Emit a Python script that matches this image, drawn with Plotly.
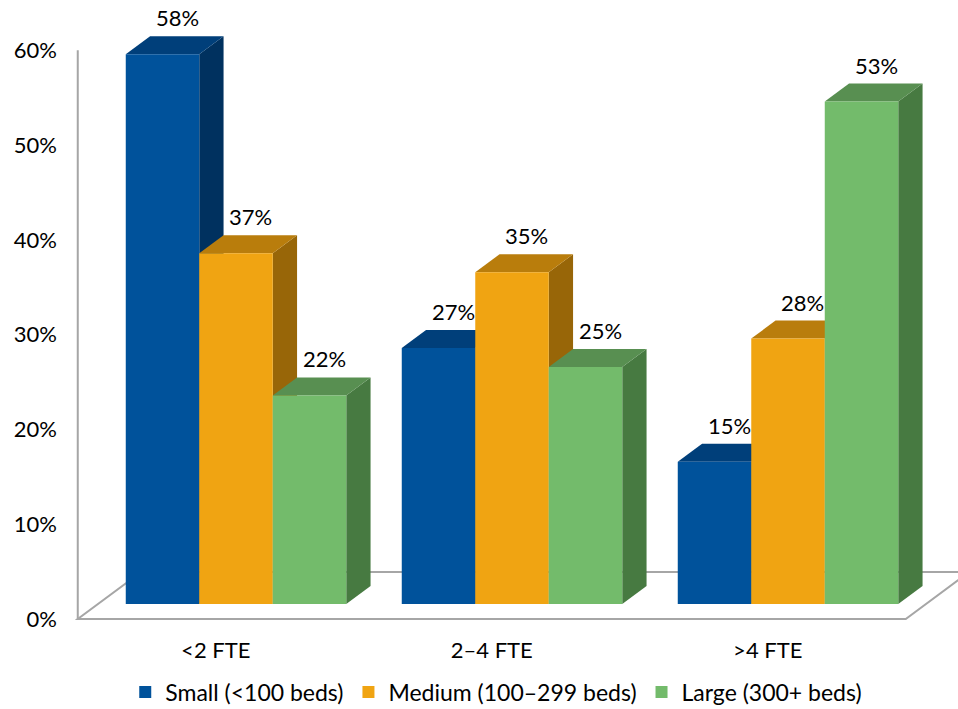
import plotly.graph_objects as go

# ---- data -------------------------------------------------------------
categories = ["<2 FTE", "2–4 FTE", ">4 FTE"]
series_names = ["Small (<100 beds)", "Medium (100–299 beds)", "Large (300+ beds)"]
small = [58, 27, 15]
medium = [37, 35, 28]
large = [22, 25, 53]
y_ticks = [0, 10, 20, 30, 40, 50, 60]

series_values = [small, medium, large]

# ---- styling ----------------------------------------------------------
# (front, top, side) face colours per series
face_colors = [
    ("#00529B", "#003F7A", "#00315F"),
    ("#F0A412", "#B97D0C", "#986608"),
    ("#73BB6B", "#588F51", "#477A41"),
]
FONT = "Lato"
FONT_SIZE = 22
LEGEND_FONT_SIZE = 23
LINE_COLOR = "#A6A6A6"

W_FIG, H_FIG = 958, 709
M_L, M_R, M_T, M_B = 60, 0, 10, 88
X_RANGE = [-0.6377, 2.6159]
Y_RANGE = [-1.793, 62.66]

px_x = (W_FIG - M_L - M_R) / (X_RANGE[1] - X_RANGE[0])
px_y = (H_FIG - M_T - M_B) / (Y_RANGE[1] - Y_RANGE[0])

# oblique projection: depth measured in screen pixels going up and to the right
SLANT = 1.35


def proj(x, y, z):
    return x + z * SLANT / px_x, y + z / px_y


BAR_W = 0.2663          # bar width in category units
BAR_DEPTH = 18          # bar depth (px)
FLOOR_FRONT = -15       # floor front edge relative to bar front plane
FLOOR_BACK = 32         # floor back edge relative to bar front plane


def path(points):
    return "M " + " L ".join(f"{px},{py}" for px, py in points) + " Z"


shapes = []

# floor outline
fl = [proj(-0.5, 0, FLOOR_FRONT), proj(2.5, 0, FLOOR_FRONT),
      proj(2.5, 0, FLOOR_BACK), proj(-0.5, 0, FLOOR_BACK)]
shapes.append(dict(type="path", path=path(fl), xref="x", yref="y",
                   line=dict(color=LINE_COLOR, width=2), fillcolor="rgba(0,0,0,0)",
                   layer="below"))
# left wall edge
x0w, y0w = proj(-0.5, 0, FLOOR_FRONT)
x1w, y1w = proj(-0.5, y_ticks[-1], FLOOR_FRONT)
shapes.append(dict(type="line", x0=x0w, y0=y0w, x1=x1w, y1=y1w, xref="x", yref="y",
                   line=dict(color=LINE_COLOR, width=2), layer="below"))

traces = []
annotations = []
n_series = len(series_values)

# side and top faces are drawn below the front faces, left to right
for gi in range(len(categories)):
    for si in range(n_series):
        v = series_values[si][gi]
        _, top_c, side_c = face_colors[si]
        xl = gi + (si - (n_series - 1) / 2) * BAR_W - BAR_W / 2
        xr = xl + BAR_W
        side = [proj(xr, 0, 0), proj(xr, v, 0), proj(xr, v, BAR_DEPTH), proj(xr, 0, BAR_DEPTH)]
        top = [proj(xl, v, 0), proj(xr, v, 0), proj(xr, v, BAR_DEPTH), proj(xl, v, BAR_DEPTH)]
        shapes.append(dict(type="path", path=path(side), xref="x", yref="y",
                           fillcolor=side_c, line=dict(width=0), layer="below"))
        shapes.append(dict(type="path", path=path(top), xref="x", yref="y",
                           fillcolor=top_c, line=dict(width=0), layer="below"))
        lx, _ = proj((xl + xr) / 2, v, BAR_DEPTH * 0.6)
        ly = proj(0, v, BAR_DEPTH)[1]
        annotations.append(dict(x=lx, y=ly, xref="x", yref="y", text=f"{v}%",
                                showarrow=False, yanchor="bottom", yshift=3,
                                font=dict(family=FONT, size=FONT_SIZE, color="#000000")))

# front faces as bar traces
for si in range(n_series):
    xs = [gi + (si - (n_series - 1) / 2) * BAR_W for gi in range(len(categories))]
    traces.append(go.Bar(x=xs, y=series_values[si], width=BAR_W, name=series_names[si],
                         marker=dict(color=face_colors[si][0], line=dict(width=0)),
                         hoverinfo="skip"))

fig = go.Figure(traces)

front_dx = FLOOR_FRONT * SLANT / px_x
front_dy = FLOOR_FRONT / px_y

fig.update_layout(
    width=W_FIG, height=H_FIG, autosize=False,
    margin=dict(l=M_L, r=M_R, t=M_T, b=M_B),
    paper_bgcolor="white", plot_bgcolor="white",
    barmode="overlay",
    shapes=shapes, annotations=annotations,
    font=dict(family=FONT, size=FONT_SIZE, color="#000000"),
    xaxis=dict(range=X_RANGE, showgrid=False, zeroline=False, showline=False,
               tickmode="array", tickvals=[i + front_dx for i in range(len(categories))],
               ticktext=categories, ticks="", ticklabelstandoff=14,
               tickfont=dict(family=FONT, size=FONT_SIZE, color="#000000")),
    yaxis=dict(range=Y_RANGE, showgrid=False, zeroline=False, showline=False,
               tickmode="array", tickvals=[t + front_dy for t in y_ticks],
               ticktext=[f"{t}%" for t in y_ticks], ticks="", ticklabelstandoff=2,
               tickfont=dict(family=FONT, size=FONT_SIZE, color="#000000")),
    legend=dict(orientation="h", xref="container", yref="container",
                x=0.518, xanchor="center", y=1 - 692 / H_FIG, yanchor="middle",
                font=dict(family=FONT, size=LEGEND_FONT_SIZE, color="#000000"),
                traceorder="normal"),
    showlegend=True,
)

fig.write_html("out.html")
